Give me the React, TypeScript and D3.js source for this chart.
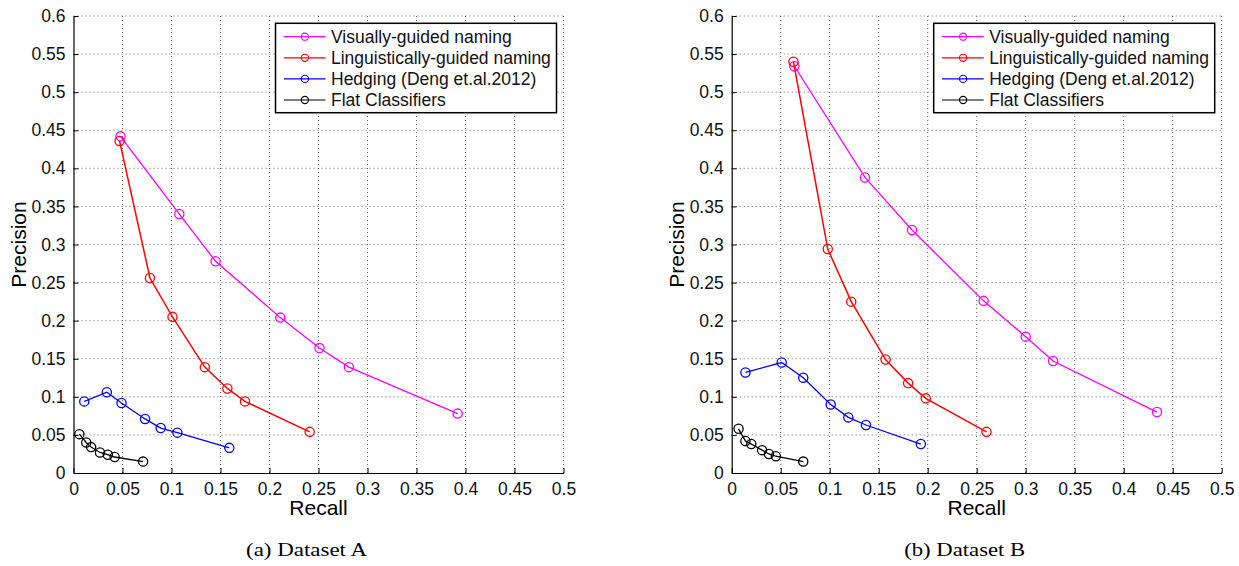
import React, { useEffect, useRef } from "react";
import * as d3 from "d3";

// axis ticks
const recallTicks = [0, 0.05, 0.1, 0.15, 0.2, 0.25, 0.3, 0.35, 0.4, 0.45, 0.5];
const precisionTicks = [0, 0.05, 0.1, 0.15, 0.2, 0.25, 0.3, 0.35, 0.4, 0.45, 0.5, 0.55, 0.6];

const seriesNames = [
  "Visually-guided naming",
  "Linguistically-guided naming",
  "Hedging (Deng et.al.2012)",
  "Flat Classifiers",
];
const seriesColors = ["#ff00ff", "#ff0000", "#0000ff", "#000000"];

// Dataset A  [recall, precision]
const visualA = [[0.048, 0.442], [0.108, 0.34], [0.145, 0.278], [0.211, 0.204], [0.251, 0.164], [0.281, 0.139], [0.392, 0.078]];
const linguisticA = [[0.047, 0.436], [0.078, 0.256], [0.101, 0.205], [0.134, 0.139], [0.157, 0.111], [0.175, 0.094], [0.241, 0.054]];
const hedgingA = [[0.011, 0.094], [0.034, 0.106], [0.049, 0.092], [0.073, 0.071], [0.089, 0.059], [0.106, 0.053], [0.159, 0.033]];
const flatA = [[0.006, 0.051], [0.013, 0.040], [0.018, 0.034], [0.027, 0.027], [0.035, 0.024], [0.042, 0.021], [0.071, 0.015]];

// Dataset B
const visualB = [[0.064, 0.534], [0.136, 0.388], [0.184, 0.319], [0.257, 0.226], [0.300, 0.179], [0.328, 0.147], [0.434, 0.080]];
const linguisticB = [[0.063, 0.540], [0.098, 0.294], [0.122, 0.225], [0.157, 0.149], [0.180, 0.118], [0.198, 0.098], [0.260, 0.054]];
const hedgingB = [[0.014, 0.132], [0.051, 0.145], [0.073, 0.125], [0.101, 0.090], [0.119, 0.073], [0.137, 0.063], [0.193, 0.038]];
const flatB = [[0.007, 0.058], [0.014, 0.042], [0.020, 0.038], [0.031, 0.030], [0.038, 0.025], [0.045, 0.022], [0.073, 0.015]];

const panels = [
  { caption: "(a)  Dataset A", left: 73.5, series: [visualA, linguisticA, hedgingA, flatA] },
  { caption: "(b)  Dataset B", left: 731.7, series: [visualB, linguisticB, hedgingB, flatB] },
];

const W = 1239;
const H = 566;
const plotW = 490;
const top = 16;
const bottom = 473;
const sans = "'Liberation Sans', Arial, Helvetica, sans-serif";

const fmt = (v: number) => String(+v.toFixed(2));

const App = () => {
  const ref = useRef<SVGSVGElement>(null);

  useEffect(() => {
    const svg = d3.select(ref.current);
    svg.selectAll("*").remove();

    panels.forEach((p) => {
      const x = d3.scaleLinear().domain([0, 0.5]).range([p.left, p.left + plotW]);
      const y = d3.scaleLinear().domain([0, 0.6]).range([bottom, top]);
      const g = svg.append("g");

      // dotted grid
      g.selectAll(".gx")
        .data(recallTicks.slice(1))
        .enter()
        .append("line")
        .attr("x1", (d) => x(d))
        .attr("x2", (d) => x(d))
        .attr("y1", top)
        .attr("y2", bottom)
        .attr("stroke", "#666")
        .attr("stroke-width", 1)
        .attr("stroke-dasharray", "1,3");
      g.selectAll(".gy")
        .data(precisionTicks.slice(1))
        .enter()
        .append("line")
        .attr("x1", x(0))
        .attr("x2", x(0.5))
        .attr("y1", (d) => y(d))
        .attr("y2", (d) => y(d))
        .attr("stroke", "#666")
        .attr("stroke-width", 1)
        .attr("stroke-dasharray", "1,3");

      // axes with inward ticks
      const xAxis = d3.axisBottom(x).tickValues(recallTicks).tickFormat((d) => fmt(+d)).tickSizeInner(-5).tickSizeOuter(0).tickPadding(10);
      const yAxis = d3.axisLeft(y).tickValues(precisionTicks).tickFormat((d) => fmt(+d)).tickSizeInner(-5).tickSizeOuter(0).tickPadding(8);

      const gx = g.append("g").attr("transform", `translate(0,${bottom})`).call(xAxis);
      const gy = g.append("g").attr("transform", `translate(${p.left},0)`).call(yAxis);
      [gx, gy].forEach((a) => {
        a.selectAll("path").attr("stroke", "#000").attr("stroke-width", 1.2);
        a.selectAll("line").attr("stroke", "#000");
        a.selectAll("text").attr("fill", "#111").style("font-family", sans).style("font-size", "17.5px");
      });

      // labels
      g.append("text")
        .attr("x", p.left + plotW / 2)
        .attr("y", bottom + 42)
        .attr("text-anchor", "middle")
        .style("font-family", sans)
        .style("font-size", "21px")
        .text("Recall");
      g.append("text")
        .attr("transform", `translate(${p.left - 48},${(top + bottom) / 2}) rotate(-90)`)
        .attr("text-anchor", "middle")
        .style("font-family", sans)
        .style("font-size", "21px")
        .text("Precision");

      // series
      const line = d3.line<number[]>().x((d) => x(d[0])).y((d) => y(d[1]));
      p.series.forEach((s, i) => {
        g.append("path")
          .datum(s)
          .attr("d", line)
          .attr("fill", "none")
          .attr("stroke", seriesColors[i])
          .attr("stroke-width", i === 1 ? 1.5 : 1.3);
        g.selectAll(".m" + i)
          .data(s)
          .enter()
          .append("circle")
          .attr("cx", (d) => x(d[0]))
          .attr("cy", (d) => y(d[1]))
          .attr("r", 4.6)
          .attr("fill", "none")
          .attr("stroke", seriesColors[i])
          .attr("stroke-width", 1.3);
      });

      // legend
      const lx = p.left + plotW - 7 - 281;
      const lg = g.append("g").attr("transform", `translate(${lx},23.3)`);
      lg.append("rect")
        .attr("width", 281)
        .attr("height", 89.4)
        .attr("fill", "#fff")
        .attr("stroke", "#000")
        .attr("stroke-width", 1.5);
      seriesNames.forEach((name, i) => {
        const ry = 13.4 + i * 21.1;
        lg.append("line")
          .attr("x1", 8.4)
          .attr("x2", 50)
          .attr("y1", ry)
          .attr("y2", ry)
          .attr("stroke", seriesColors[i])
          .attr("stroke-width", 1.2);
        lg.append("circle")
          .attr("cx", 29.4)
          .attr("cy", ry)
          .attr("r", 3.6)
          .attr("fill", "none")
          .attr("stroke", seriesColors[i])
          .attr("stroke-width", 1.1);
        lg.append("text")
          .attr("x", 55.5)
          .attr("y", ry)
          .attr("dy", "0.36em")
          .attr("fill", "#111")
          .style("font-family", sans)
          .style("font-size", "17.5px")
          .text(name);
      });

      // caption
      svg.append("text")
        .attr("x", p.left + plotW / 2 - 12)
        .attr("y", 556)
        .attr("text-anchor", "middle")
        .attr("textLength", 121)
        .attr("lengthAdjust", "spacingAndGlyphs")
        .style("font-family", "'Liberation Serif', 'Times New Roman', serif")
        .style("font-size", "19px")
        .text(p.caption);
    });
  }, []);

  return (
    <svg
      ref={ref}
      width={W}
      height={H}
      style={{ position: "absolute", left: 0, top: 0, background: "#fff" }}
    />
  );
};

export default App;
